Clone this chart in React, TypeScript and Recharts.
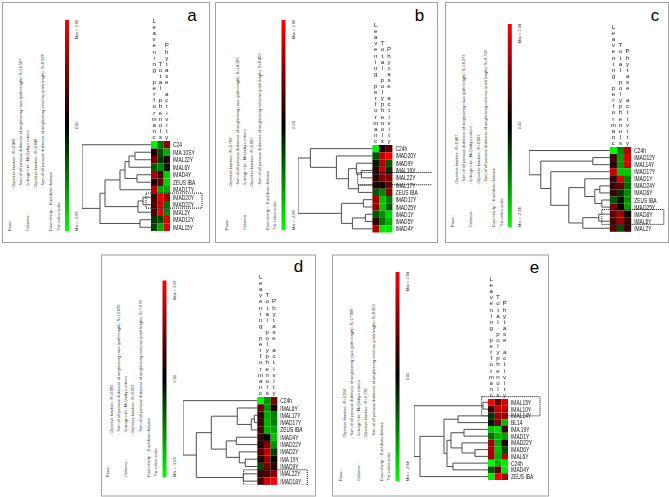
import React from "react";
import { ComposedChart, Scatter, XAxis, YAxis, ReferenceArea } from "recharts";

type Tree = number | [number, Tree, Tree];
type Pt = { x: number; y: number };

const COLS_A = ["Leavening performanc", "Total phenols", "Phytase activity"];
const COLS = ["Leavening performanc", "Total polyphenols", "Phytase activity"];

// panel a
const A_ROWS = ["C24", "IMA 10SY", "IMAL22Y", "IMAL6Y", "IMAD4Y", "ZEUS IBA", "IMAD17Y", "IMAD20Y", "IMAD22Y", "IMAL2Y", "IMAD12Y", "IMAL15Y"];
const A_LEAV = [-2.6, 0.4, 1.2, -1.0, 1.8, 0.4, 2.0, 0.7, 0.9, 0.8, -0.6, -0.7];
const A_PHEN = [-1.2, -0.8, -0.6, -1.4, 0.6, 1.0, -1.8, 2.4, 2.2, 2.4, -0.8, -1.8];
const A_PHYT = [1.5, -1.8, 0.4, -0.3, -2.2, -2.2, -1.8, 1.6, -1.2, -1.4, 2.3, 2.3];
const A_TREE: Tree = [69, 0, [51, [46, [31, [26, [22, [16, 1, 2], 3], [14, 4, 5]], 6], [13, [8, 7, 8], 9]], [11, 10, 11]]];
const A_STATS = ["0.468", "16.567", "0.848", "8.328"];
const A_MAX = 2.66;

// panel b
const B_ROWS = ["C24h", "IMAD20Y", "IMAD9Y", "IMAL16Y", "IMAL22Y", "IMAL17Y", "ZEUS IBA", "IMAD17Y", "IMAD25Y", "IMAD1Y", "IMAD5Y", "IMAD4Y"];
const B_LEAV = [-2.8, -0.9, -0.3, 0.5, 0.5, 0.4, -1.0, 1.8, 1.7, -1.0, 0.6, 2.0];
const B_PHEN = [0.2, 2.2, 2.0, 2.3, 1.5, 0.3, -1.5, -2.2, -2.2, -1.6, -1.3, -2.6];
const B_PHYT = [1.0, 2.8, -1.0, -0.5, 1.4, 1.3, 1.6, -1.4, -1.0, -2.4, -2.0, -2.6];
const B_TREE: Tree = [74.4, [62, 0, [36, 1, [24, [16, 2, [11, 3, 4]], [14, 5, 6]]]], [31, [9, 7, 8], [20, [7, 9, 10], 11]]];
const B_STATS = ["0.789", "14.183", "0.981", "6.465"];
const B_MAX = 2.88;

// panel c
const C_ROWS = ["C24h", "IMAD12Y", "IMAL14Y", "IMAD17Y", "IMAD1Y", "IMAD24Y", "IMAD6Y", "ZEUS IBA", "IMAD25Y", "IMAD8Y", "IMAL6Y", "IMAL2Y"];
const C_LEAV = [-2.9, 0.6, 0.4, 2.3, 0.6, 0.6, 0.6, -1.0, 1.3, 1.1, 0.9, 1.0];
const C_PHEN = [-1.6, -1.8, -1.8, -2.3, 2.6, 1.2, -0.6, -0.2, 0.2, 2.0, 1.9, -0.9];
const C_PHYT = [2.0, 2.5, 2.4, -2.3, -1.5, -1.2, -1.6, -1.7, -1.8, 0.1, 0.6, 0.7];
const C_TREE: Tree = [80.8, 0, [69, [17, 1, 2], [59, 3, [41, [25, 4, [15, [10, 5, 6], [8, 7, 8]]], [27, [11, 9, 10], 11]]]]];
const C_STATS = ["0.487", "16.273", "0.863", "9.736"];
const C_MAX = 2.94;

// panel d
const D_ROWS = ["C24h", "IMAL6Y", "IMAL17Y", "IMAD17Y", "ZEUS IBA", "IMAD4Y", "IMAD22Y", "IMAD2Y", "IMA 19Y", "IMAD9Y", "IMAL22Y", "IMAD18Y"];
const D_LEAV = [-3.0, 1.2, 0.6, 0.7, 0.8, 0.6, 0.4, 1.0, 0.4, -0.9, 0.6, 0.9];
const D_PHEN = [-1.8, -1.8, -2.0, -2.2, -2.2, 0.0, 1.6, 2.4, 1.8, 1.4, 0.9, 2.6];
const D_PHYT = [1.4, 0.3, -1.6, -1.6, -2.0, -2.4, -1.8, -0.8, -0.1, 0.5, 1.6, 3.0];
const D_TREE: Tree = [74.3, 0, [61, [46, [20, 1, [6, [3, 2, 3], 4]], [31, [21, 5, 6], [18, 7, [12, 8, 9]]]], [14, 10, 11]]];
const D_STATS = ["0.865", "12.639", "0.952", "7.976"];
const D_MAX = 3.09;

// panel e
const E_ROWS = ["IMAL15Y", "IMAL10Y", "IMAL14Y", "BL14", "IMA 19Y", "IMAD1Y", "IMAD22Y", "IMAD6Y", "IMAL6Y", "C24h", "IMAD4Y", "ZEUS IBA"];
const E_LEAV = [2.8, 0.7, -0.7, -0.2, -2.2, -1.2, 1.8, 1.8, 1.8, -2.8, -1.0, -2.6];
const E_PHEN = [1.2, 2.2, 1.8, 1.3, -2.5, -2.0, -2.0, -2.2, -2.0, -2.0, 1.0, 2.6];
const E_PHYT = [2.4, 2.2, 1.8, -2.0, 0.6, -1.8, 0.3, -0.8, 2.0, -2.6, -2.6, 2.0];
const E_TREE: Tree = [74, [5, 0, 1], [68, [44, [30, 2, 3], [41, [37, [24, 4, 5], [26, 6, [13, 7, 8]]], [35, 9, 10]]], 11]];
const E_STATS = ["0.558", "17.888", "0.739", "6.953"];
const E_MAX = 2.84;

const TOP = 135;
const PITCH = 6.1;
const FONT = "'Liberation Sans', Arial, sans-serif";
const TREE_COLOR = "#4d4d4d";

const panels = [
  { id: "a", rows: A_ROWS, cols: COLS_A, values: [A_LEAV, A_PHEN, A_PHYT], tree: A_TREE, stats: A_STATS, max: A_MAX,
    box: [2, 2, 209, 242], letter: [192, 20.7], bar: [65, 20, 231], heat: [151, 140.5, 6.33, 90], labW: 36, mark: [-5, 51, 6.95, 8.95] },
  { id: "b", rows: B_ROWS, cols: COLS, values: [B_LEAV, B_PHEN, B_PHYT], tree: B_TREE, stats: B_STATS, max: B_MAX,
    box: [215, 2, 437, 242], letter: [419.5, 20.7], bar: [281.5, 20, 230], heat: [372.7, 145.3, 6.67, 87.5], labW: 40, mark: [-14.7, 63, 3.78, 5.45] },
  { id: "c", rows: C_ROWS, cols: COLS, values: [C_LEAV, C_PHEN, C_PHYT], tree: C_TREE, stats: C_STATS, max: C_MAX,
    box: [445, 2, 668, 242], letter: [655, 21], bar: [507.8, 24, 227], heat: [609.3, 146.7, 7.13, 84.8], labW: 35, mark: [-8, 54, 8.85, 10.95] },
  { id: "d", rows: D_ROWS, cols: COLS, values: [D_LEAV, D_PHEN, D_PHYT], tree: D_TREE, stats: D_STATS, max: D_MAX,
    box: [101, 254.5, 315, 495.5], letter: [298.5, 271.7], bar: [162.5, 280.5, 477], heat: [257, 396.5, 6.67, 87.8], labW: 35, mark: [-13.7, 50, 9.95, 12.05] },
  { id: "e", rows: E_ROWS, cols: COLS, values: [E_LEAV, E_PHEN, E_PHYT], tree: E_TREE, stats: E_STATS, max: E_MAX,
    box: [332, 254.5, 548, 495.5], letter: [534.5, 273.3], bar: [395.5, 272, 481], heat: [488, 399, 6.67, 81], labW: 38, mark: [-6.3, 52, -0.35, 2.5] },
];

type PanelDef = (typeof panels)[number];

function buildLinks(t: Tree, out: Pt[][]): { h: number; y: number } {
  if (typeof t === "number") return { h: 0, y: t + 0.5 };
  const [h, l, r] = t;
  const a = buildLinks(l, out);
  const b = buildLinks(r, out);
  out.push([
    { x: -a.h, y: a.y },
    { x: -h, y: a.y },
    { x: -h, y: b.y },
    { x: -b.h, y: b.y },
  ]);
  return { h, y: (a.y + b.y) / 2 };
}

function heatColor(v: number, max: number) {
  const t = Math.max(-1, Math.min(1, v / max));
  const c = Math.round(Math.abs(t) * 255);
  return t >= 0 ? `rgb(${c},0,0)` : `rgb(0,${c},0)`;
}

// column names drawn as upright letters stacked downwards, ending on top of the heatmap
function ColumnTick({ x, y, payload, cols, cw }: any) {
  const idx = Math.round(payload.value / cw - 0.5);
  const chars = Array.from(String(cols[idx] ?? ""));
  return (
    <g>
      {chars.map((ch, k) =>
        ch === " " ? null : (
          <text
            key={k}
            x={x}
            y={y - 2 - (chars.length - 1 - k) * PITCH}
            textAnchor="middle"
            fontSize={6.2}
            fontFamily={FONT}
            fill="#222"
          >
            {ch}
          </text>
        ),
      )}
    </g>
  );
}

function RowTick({ x, y, payload, rows }: any) {
  return (
    <text transform={`translate(${x},${y}) scale(0.7,1)`} dy="0.36em" fontSize={7} fontFamily={FONT} fill="#111">
      {rows[Math.floor(payload.value)]}
    </text>
  );
}

function HeatTree({ p }: { p: PanelDef }) {
  const links: Pt[][] = [];
  const rootH = buildLinks(p.tree, links).h;
  const [hx, hy, cw, hh] = p.heat;
  const n = p.rows.length;
  const width = rootH + 3 * cw + p.labW;
  const height = TOP + hh;
  const [mx1, mx2, my1, my2] = p.mark;
  return (
    <div style={{ position: "absolute", left: hx - rootH, top: hy - TOP, width, height, willChange: "transform" }}>
      <ComposedChart width={width} height={height} margin={{ top: 0, right: 0, bottom: 0, left: 0 }}>
        <XAxis
          type="number"
          dataKey="x"
          orientation="top"
          domain={[-rootH, 3 * cw]}
          allowDataOverflow
          ticks={[0.5 * cw, 1.5 * cw, 2.5 * cw]}
          interval={0}
          height={TOP}
          axisLine={false}
          tickLine={false}
          tickSize={0}
          tickMargin={0}
          tick={(t: any) => <ColumnTick {...t} cols={p.cols} cw={cw} />}
        />
        <YAxis
          type="number"
          dataKey="y"
          orientation="right"
          domain={[0, n]}
          reversed
          allowDataOverflow
          ticks={p.rows.map((_, i) => i + 0.5)}
          interval={0}
          width={p.labW}
          axisLine={false}
          tickLine={false}
          tickSize={0}
          tickMargin={3}
          tick={(t: any) => <RowTick {...t} rows={p.rows} />}
        />
        {p.values.map((col, c) =>
          col.map((v, r) => (
            <ReferenceArea
              key={`${c}-${r}`}
              x1={c * cw}
              x2={(c + 1) * cw}
              y1={r}
              y2={r + 1}
              fill={heatColor(v, p.max)}
              fillOpacity={1}
              stroke="none"
            />
          )),
        )}
        {links.map((pts, i) => (
          <Scatter
            key={i}
            data={pts}
            line={{ stroke: TREE_COLOR, strokeWidth: 1 }}
            lineType="joint"
            shape={() => <g />}
            isAnimationActive={false}
          />
        ))}
        <ReferenceArea
          x1={mx1}
          x2={mx2}
          y1={my1}
          y2={my2}
          fill="none"
          stroke="#000"
          strokeWidth={1}
          strokeDasharray="1 1"
          ifOverflow="visible"
        />
      </ComposedChart>
    </div>
  );
}

function Decor({ p }: { p: PanelDef }) {
  const [x0, y0, x1, y1] = p.box;
  const [bx, btop, bbot] = p.bar;
  const s = p.stats;
  const lines = [
    { dx: -55, dy: 0, t: "Rows :" },
    { dx: -51, dy: -41, t: `- Objective function : R=${s[0]}` },
    { dx: -44, dy: -43, t: `- Sum of all pairwise distances of neighboring rows (path length): S=${s[1]}` },
    { dx: -37, dy: -43, t: "- Linkage rule : McQuitty's criteria" },
    { dx: -37, dy: 0, t: "Columns :" },
    { dx: -29.5, dy: -41, t: `- Objective function : R=${s[2]}` },
    { dx: -22, dy: -43, t: `- Sum of all pairwise distances of neighboring columns (path length): S=${s[3]}` },
    { dx: -14, dy: 0, t: "Dissimilarity : - Euclidean distance" },
    { dx: -6.5, dy: 0, t: "The colors scale:" },
  ];
  const small = { fontSize: 3.9, fontFamily: FONT, fill: "#333" };
  const lx = bx + 13.3;
  return (
    <g>
      <rect x={x0 + 0.5} y={y0 + 0.5} width={x1 - x0} height={y1 - y0} fill="#fff" stroke="#a0a0a0" />
      <text x={p.letter[0]} y={p.letter[1]} textAnchor="middle" fontSize={17} fontFamily={FONT} fill="#000">
        {p.id}
      </text>
      {lines.map((l, i) => (
        <text key={i} transform={`translate(${bx + l.dx + 1.3},${bbot + l.dy}) rotate(-90)`} {...small}>
          {l.t}
        </text>
      ))}
      <rect x={bx} y={btop} width={4} height={bbot - btop} fill="url(#colscale)" />
      <text transform={`translate(${lx},${btop}) rotate(-90)`} textAnchor="end" {...small}>
        {`Max = ${p.max.toFixed(2)}`}
      </text>
      <text transform={`translate(${lx},${(btop + bbot) / 2}) rotate(-90)`} textAnchor="middle" {...small}>
        0.00
      </text>
      <text transform={`translate(${lx},${bbot}) rotate(-90)`} textAnchor="start" {...small}>
        {`Min = -${p.max.toFixed(2)}`}
      </text>
    </g>
  );
}

export default function App() {
  return (
    <div style={{ position: "absolute", left: 0, top: 0, width: 669, height: 497, background: "#fff", overflow: "hidden" }}>
      <svg width={669} height={497} style={{ position: "absolute", left: 0, top: 0 }}>
        <defs>
          <linearGradient id="colscale" x1="0" y1="0" x2="0" y2="1">
            <stop offset="0" stopColor="#ff0000" />
            <stop offset="0.5" stopColor="#000000" />
            <stop offset="1" stopColor="#00ff00" />
          </linearGradient>
        </defs>
        {panels.map((p) => (
          <Decor key={p.id} p={p} />
        ))}
      </svg>
      {panels.map((p) => (
        <HeatTree key={p.id} p={p} />
      ))}
    </div>
  );
}
